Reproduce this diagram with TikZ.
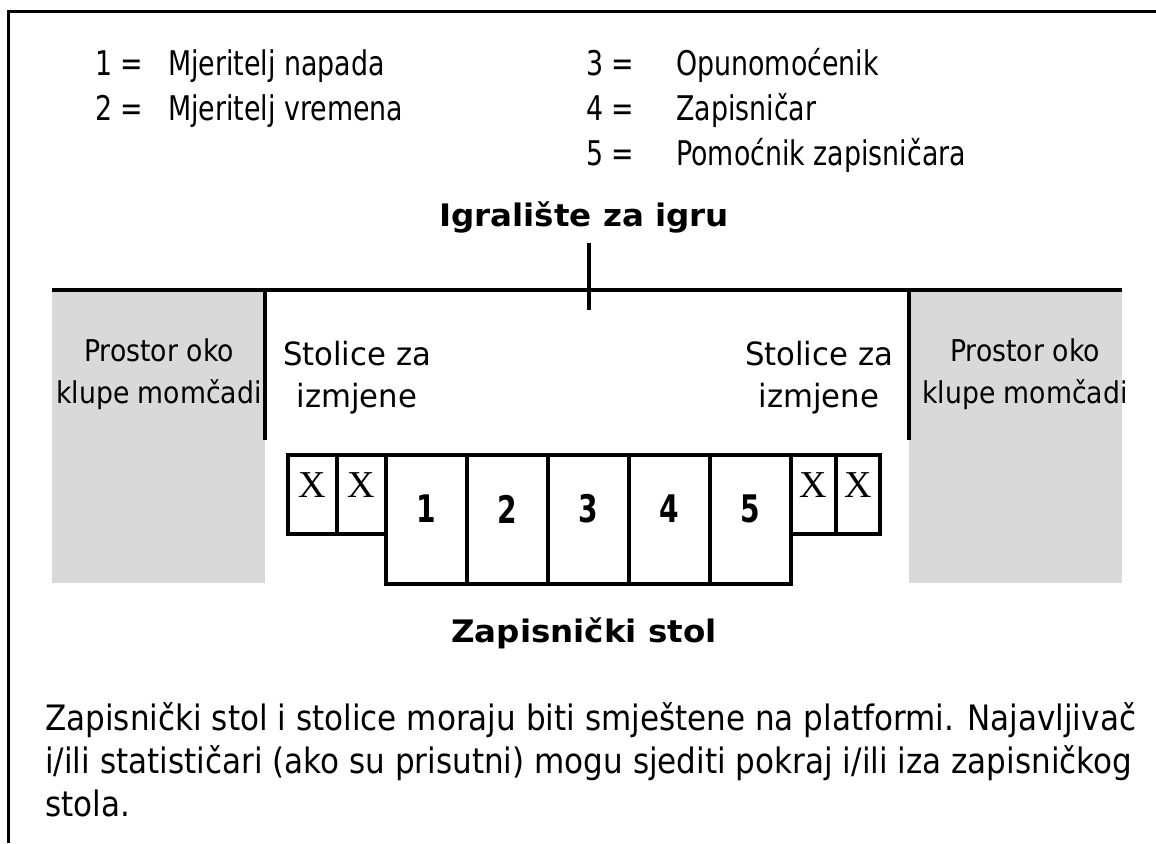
\documentclass[tikz,border=0pt]{standalone}
\usepackage{fontspec}
\setmainfont{DejaVu Sans}
\newfontfamily\legf[FakeStretch=0.79]{DejaVu Sans}
\newfontfamily\parf[FakeStretch=0.887]{DejaVu Sans}
\newfontfamily\sidef[FakeStretch=0.96]{DejaVu Sans}
\newfontfamily\benchf[FakeStretch=0.89]{DejaVu Sans}
\newfontfamily\titf[FakeStretch=1.05]{DejaVu Sans}
\newfontfamily\numf[FakeStretch=0.74]{DejaVu Sans}
\newfontfamily\xf{Liberation Serif}
\definecolor{benchgray}{RGB}{217,217,217}
\tikzset{
  frameline/.style={line width=3pt},
  fieldline/.style={line width=4.5pt},
  tableline/.style={line width=4pt},
  legnum/.style={anchor=base west, inner sep=0pt, font=\legf\fontsize{34}{36}\selectfont},
  legtxt/.style={anchor=base west, inner sep=0pt, font=\legf\fontsize{34}{36}\selectfont},
  title/.style={anchor=base, inner sep=0pt, font=\titf\bfseries\fontsize{31}{36}\selectfont},
  sidetxt/.style={align=center, inner sep=0pt, font=\sidef\fontsize{32}{42}\selectfont},
  benchtxt/.style={align=center, inner sep=0pt, font=\benchf\fontsize{30}{42}\selectfont},
  seatnum/.style={inner sep=0pt, font=\numf\bfseries\fontsize{38}{38}\selectfont},
  xmark/.style={inner sep=0pt, font=\xf\fontsize{38}{38}\selectfont},
  paratxt/.style={anchor=base west, inner sep=0pt, font=\parf\fontsize{35}{42}\selectfont}
}
\begin{document}
\begin{tikzpicture}[x=1pt,y=-1pt]
\useasboundingbox (0,0) rectangle (1156,843);
% frame
\draw[frameline] (8,843) -- (8,12) -- (1156,12);
% legend
\node[legnum] (n1) at (95,75) {1 =};
\node[legtxt] (t1) at (168,75) {Mjeritelj napada};
\node[legnum] (n2) at (95,120) {2 =};
\node[legtxt] (t2) at (168,120) {Mjeritelj vremena};
\node[legnum] (n3) at (586,75) {3 =};
\node[legtxt] (t3) at (676,75) {Opunomoćenik};
\node[legnum] (n4) at (586,120) {4 =};
\node[legtxt] (t4) at (676,120) {Zapisničar};
\node[legnum] (n5) at (586,165) {5 =};
\node[legtxt] (t5) at (676,165) {Pomoćnik zapisničara};
% title
\node[title] (field) at (584,226) {Igralište za igru};
% bench areas
\fill[benchgray] (52,290) rectangle (265,583);
\fill[benchgray] (909,290) rectangle (1122,583);
\draw[fieldline] (52,290) -- (1122,290);
\draw[fieldline] (589,243) -- (589,310);
\draw[fieldline] (265,290) -- (265,440);
\draw[fieldline] (909,290) -- (909,440);
\node[benchtxt] (bl) at (159,374) {Prostor oko\\klupe momčadi};
\node[benchtxt] (br) at (1025,374) {Prostor oko\\klupe momčadi};
\node[sidetxt] (sl) at (357,378) {Stolice za\\izmjene};
\node[sidetxt] (sr) at (819,378) {Stolice za\\izmjene};
% table and chairs
\draw[tableline] (288,455) -- (880,455) -- (880,534) -- (791,534) -- (791,584) -- (386,584) -- (386,534) -- (288,534) -- cycle;
\foreach \xx in {337,386,467,548,629,710,791,836} \draw[tableline] (\xx,455) -- (\xx,534);
\foreach \xx in {467,548,629,710} \draw[tableline] (\xx,534) -- (\xx,584);
\node[xmark] (x1) at (312,485) {X};
\node[xmark] (x2) at (361,485) {X};
\node[xmark] (x3) at (813,485) {X};
\node[xmark] (x4) at (858,485) {X};
\node[seatnum] (s1) at (426,509) {1};
\node[seatnum] (s2) at (507,509) {2};
\node[seatnum] (s3) at (588,509) {3};
\node[seatnum] (s4) at (669,509) {4};
\node[seatnum] (s5) at (750,509) {5};
\node[title] (table) at (584,642) {Zapisnički stol};
% note
\node[paratxt] (p1) at (45,730) {Zapisnički stol i stolice moraju biti smještene na platformi. Najavljivač};
\node[paratxt] (p2) at (45,773) {i/ili statističari (ako su prisutni) mogu sjediti pokraj i/ili iza zapisničkog};
\node[paratxt] (p3) at (45,816) {stola.};
\end{tikzpicture}
\end{document}
